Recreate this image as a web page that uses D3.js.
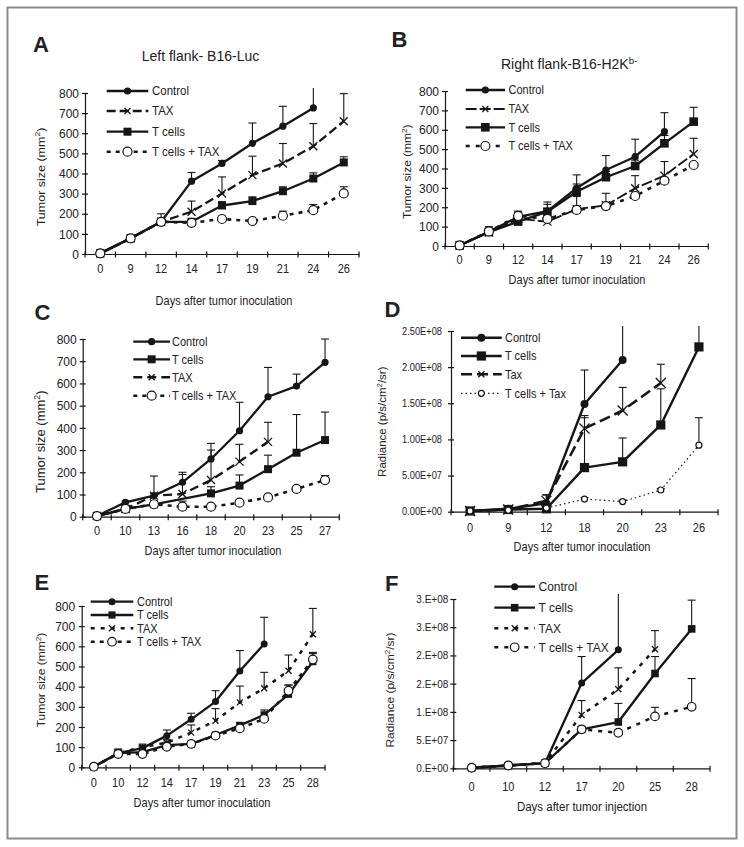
<!DOCTYPE html>
<html><head><meta charset="utf-8">
<script src="https://cdn.jsdelivr.net/npm/d3@7"></script>
<style>
body{margin:0;background:#fff}
svg{display:block}
text{font-family:"Liberation Sans",Arial,Helvetica,sans-serif;fill:#222}
</style>
</head><body><script>
// ---------- DATA ----------
const tumorTicks = [0,100,200,300,400,500,600,700,800];
const tumorTickLabels = ["0","100","200","300","400","500","600","700","800"];
const dTicks = [0,5e7,1e8,1.5e8,2e8,2.5e8];
const dTickLabels = ["0.00E+00","5.00E+07","1.00E+08","1.50E+08","2.00E+08","2.50E+08"];
const fTicks = [0,5e7,1e8,1.5e8,2e8,2.5e8,3e8];
const fTickLabels = ["0.E+00","5.E+07","1.E+08","2.E+08","2.E+08","3.E+08","3.E+08"];

// Panel A
const daysA = ["0","9","12","14","17","19","21","24","26"];
const aControl   = [3, 78, 160, 362, 450, 550, 635, 726, null];
const aControlSD = [0, 5, 40, 43, 15, 101, 99, 95, null];
const aTax       = [3, 78, 160, 210, 301, 392, 450, 535, 660];
const aTaxSD     = [0, 5, 10, 53, 82, 94, 99, 113, 137];
const aTcells    = [3, 78, 160, 160, 241, 263, 312, 375, 455];
const aTcellsSD  = [0, 5, 10, 10, 19, 21, 22, 28, 28];
const aCombo     = [3, 78, 160, 155, 174, 164, 190, 218, 301];
const aComboSD   = [0, 5, 10, 10, 14, 10, 23, 28, 33];

// Panel B
const daysB = ["0","9","12","14","17","19","21","24","26"];
const bControl   = [3, 75, 150, 180, 299, 392, 461, 590, null];
const bControlSD = [0, 25, 25, 47, 68, 75, 90, 98, null];
const bTax       = [3, 70, 140, 126, 190, 210, 298, 363, 475];
const bTaxSD     = [0, 15, 20, 10, 65, 62, 65, 73, 81];
const bTcells    = [3, 72, 126, 177, 280, 355, 413, 530, 642];
const bTcellsSD  = [0, 20, 15, 38, 40, 30, 30, 40, 74];
const bCombo     = [3, 75, 155, 140, 186, 206, 258, 337, 418];
const bComboSD   = [0, 10, 25, 10, 10, 10, 10, 12, 12];

// Panel C
const daysC = ["0","10","13","16","18","20","23","25","27"];
const cControl   = [3, 65, 95, 155, 260, 387, 540, 588, 695];
const cControlSD = [0, 5, 10, 45, 70, 128, 132, 54, 105];
const cTcells    = [3, 35, 56, null, 105, 140, 214, 288, 345];
const cTcellsSD  = [0, 5, 5, null, 30, 48, 63, 172, 126];
const cTax       = [3, 35, 95, 102, 165, 248, 337, null, null];
const cTaxSD     = [0, 5, 88, 88, 135, 78, 88, null, null];
const cCombo     = [3, 35, 56, 45, 45, 63, 87, 125, 165];
const cComboSD   = [0, 5, 5, 25, 8, 8, 8, 10, 20];

// Panel D
const daysD = ["0","9","12","18","20","23","26"];
const dControl   = [0.1e7, 0.4e7, 1.15e7, 14.9e7, 21.0e7, null, null];
const dControlSD = [0, 0.4e7, 1.2e7, 4.7e7, 4.8e7, null, null];
const dTcells    = [0.1e7, 0.3e7, 0.4e7, 6.1e7, 6.9e7, 12.0e7, 22.8e7];
const dTcellsSD  = [0, 0.2e7, 0.3e7, 6.9e7, 3.3e7, 5.0e7, 3.0e7];
const dTax       = [0.1e7, 0.3e7, 1.5e7, 11.5e7, 14.0e7, 17.8e7, null];
const dTaxSD     = [0, 0.3e7, 0.8e7, 1.8e7, 3.2e7, 2.6e7, null];
const dCombo     = [0.1e7, 0.2e7, 0.5e7, 1.75e7, 1.4e7, 3.0e7, 9.2e7];
const dComboSD   = [0, 0.2e7, 0.2e7, 0.2e7, 0.2e7, 0.2e7, 3.8e7];

// Panel E
const daysE = ["0","10","12","14","17","19","21","23","25","28"];
const eControl   = [3, 70, 95, 157, 238, 326, 478, 612, null, null];
const eControlSD = [0, 15, 12, 28, 30, 54, 101, 132, null, null];
const eTcells    = [3, 70, 75, 110, 116, 160, 208, 260, 362, 524];
const eTcellsSD  = [0, 10, 5, 5, 5, 10, 12, 24, 46, 40];
const eTax       = [3, 70, 100, 122, 172, 231, 322, 392, 479, 660];
const eTaxSD     = [0, 15, 15, 15, 38, 60, 81, 79, 78, 128];
const eCombo     = [3, 66, 66, 102, 116, 157, 193, 240, 380, 535];
const eComboSD   = [0, 25, 35, 5, 5, 10, 10, 10, 28, 35];

// Panel F
const daysF = ["0","10","12","17","20","25","28"];
const fControl   = [0.1e7, 0.5e7, 0.9e7, 15.1e7, 21.0e7, null, null];
const fControlSD = [0, 0.2e7, 0.3e7, 4.7e7, 10e7, null, null];
const fTcells    = [0.1e7, 0.5e7, 0.9e7, 6.9e7, 8.2e7, 16.8e7, 24.7e7];
const fTcellsSD  = [0, 0.2e7, 0.3e7, 0.5e7, 3.3e7, 3.0e7, 5.1e7];
const fTax       = [0.1e7, 0.5e7, 1.0e7, 9.45e7, 14.0e7, 21.1e7, null];
const fTaxSD     = [0, 0.2e7, 0.3e7, 2.55e7, 3.8e7, 3.3e7, null];
const fCombo     = [0.1e7, 0.5e7, 0.9e7, 6.9e7, 6.3e7, 9.2e7, 10.9e7];
const fComboSD   = [0, 0.3e7, 0.3e7, 0.5e7, 0.5e7, 1.6e7, 5.0e7];

// ---------- LAYOUT ----------
const INK = "#161616";
const K = 1.08; // vertical stretch of the lettering in the original figure
const SOLID = 2.3;
const svg = d3.select("body").append("svg").attr("width",744).attr("height",847);
svg.append("rect").attr("x",0).attr("y",0).attr("width",744).attr("height",847).attr("fill","#fff");
svg.append("rect").attr("x",7.5).attr("y",7.5).attr("width",729).attr("height",831)
  .attr("fill","none").attr("stroke","#8a8a8a").attr("stroke-width",2);

const tumorTitle = {parts:[["Tumor size (mm",0],["2",1],[")",0]]};
const radTitle = {parts:[["Radiance (p/s/cm",0],["2",1],["/sr)",0]]};

const panels = [
 {id:"A", days:daysA, yMax:800, yTicks:tumorTicks, yTickLabels:tumorTickLabels,
  x0:85, x1:359, yBottom:254, yTop:93, yLabelGap:6, xLabelDy:19.3, tickFont:11, yTickFont:12,
  letter:{t:"A", x:33, y:52}, title:{x:200.5, y:60.7, parts:[["Left flank- B16-Luc",0]]},
  yTitle:{x:44.5, y:177, size:12.5, ...tumorTitle},
  xTitle:{x:224, y:305, size:11, text:"Days after tumor inoculation"},
  legend:{ys:[91,111,131.7,151.7], x0:106.7, x1:148.3, tx:152, size:11.5},
  msize:{dot:3.6, square:4, open:4.5, x:4, lx:3},
  series:[
   {name:"Control", values:aControl, sd:aControlSD, marker:"dot", dash:null, width:SOLID},
   {name:"TAX", values:aTax, sd:aTaxSD, marker:"x", dash:"9,4", width:2.3},
   {name:"T cells", values:aTcells, sd:aTcellsSD, marker:"square", dash:null, width:SOLID},
   {name:"T cells + TAX", values:aCombo, sd:aComboSD, marker:"open", dash:"4,5", width:2.6}
  ]},
 {id:"B", days:daysB, yMax:800, yTicks:tumorTicks, yTickLabels:tumorTickLabels,
  x0:445, x1:708.3, yBottom:246, yTop:91, yLabelGap:6, xLabelDy:18, tickFont:11, yTickFont:12,
  letter:{t:"B", x:391.5, y:47}, title:{x:501, y:69.3, parts:[["Right flank-B16-H2K",0],["b-",1]]},
  yTitle:{x:411, y:171.7, size:12, ...tumorTitle},
  xTitle:{x:577, y:283.5, size:11, text:"Days after tumor inoculation"},
  legend:{ys:[90,109,127.3,146], x0:465.7, x1:505, tx:508.5, size:11},
  msize:{dot:3.6, square:4.3, open:4.5, x:4, lx:3},
  series:[
   {name:"Control", values:bControl, sd:bControlSD, marker:"dot", dash:null, width:SOLID},
   {name:"TAX", values:bTax, sd:bTaxSD, marker:"x", dash:"11,3", width:1.9},
   {name:"T cells", values:bTcells, sd:bTcellsSD, marker:"square", dash:null, width:SOLID},
   {name:"T cells + TAX", values:bCombo, sd:bComboSD, marker:"open", dash:"4,6", width:2.6}
  ]},
 {id:"C", days:daysC, yMax:800, yTicks:tumorTicks, yTickLabels:tumorTickLabels,
  x0:82.7, x1:339.3, yBottom:516.7, yTop:339, yLabelGap:6, xLabelDy:18.5, tickFont:11, yTickFont:12,
  letter:{t:"C", x:34.5, y:320}, title:null,
  yTitle:{x:45, y:441.7, size:13, ...tumorTitle},
  xTitle:{x:213, y:555, size:11, text:"Days after tumor inoculation"},
  legend:{ys:[341.7,359.3,377.3,395.7], x0:133.3, x1:170, tx:172, size:11},
  msize:{dot:3.6, square:4, open:4.5, x:4, lx:3},
  series:[
   {name:"Control", values:cControl, sd:cControlSD, marker:"dot", dash:null, width:SOLID},
   {name:"T cells", values:cTcells, sd:cTcellsSD, marker:"square", dash:null, width:SOLID},
   {name:"TAX", values:cTax, sd:cTaxSD, marker:"x", dash:"9,5", width:2.4},
   {name:"T cells + TAX", values:cCombo, sd:cComboSD, marker:"open", dash:"4,5", width:2.6}
  ]},
 {id:"D", days:daysD, yMax:2.5e8, yTicks:dTicks, yTickLabels:dTickLabels,
  x0:451, x1:718, yBottom:511.7, yTop:331, yLabelGap:9, xLabelDy:20, tickFont:11, yTickFont:9.3,
  letter:{t:"D", x:384.5, y:317}, title:null,
  yTitle:{x:386, y:421.7, size:11.5, ...radTitle},
  xTitle:{x:582, y:551, size:11, text:"Days after tumor inoculation"},
  legend:{ys:[337.7,356,374.3,393.3], x0:461, x1:501.7, tx:505, size:11},
  msize:{dot:4, square:4.6, open:3, x:5, lx:3},
  series:[
   {name:"Control", values:dControl, sd:dControlSD, marker:"dot", dash:null, width:2.4},
   {name:"T cells", values:dTcells, sd:dTcellsSD, marker:"square", dash:null, width:2.4},
   {name:"Tax", values:dTax, sd:dTaxSD, marker:"x", dash:"11,5", width:2.6},
   {name:"T cells + Tax", values:dCombo, sd:dComboSD, marker:"open", dash:"1.5,3", width:1.2}
  ]},
 {id:"E", days:daysE, yMax:800, yTicks:tumorTicks, yTickLabels:tumorTickLabels,
  x0:81.7, x1:325, yBottom:767.3, yTop:606, yLabelGap:6.5, xLabelDy:19.4, tickFont:11, yTickFont:12,
  letter:{t:"E", x:34.5, y:589.5}, title:null,
  yTitle:{x:45, y:680, size:12, ...tumorTitle},
  xTitle:{x:202, y:806.7, size:11, text:"Days after tumor inoculation"},
  legend:{ys:[601.7,615,628.3,641.7], x0:90.7, x1:133.3, tx:137, size:11},
  msize:{dot:3.5, square:3.6, open:4.3, x:3, lx:3},
  series:[
   {name:"Control", values:eControl, sd:eControlSD, marker:"dot", dash:null, width:SOLID},
   {name:"T cells", values:eTcells, sd:eTcellsSD, marker:"square", dash:null, width:SOLID},
   {name:"TAX", values:eTax, sd:eTaxSD, marker:"x", dash:"4,6", width:2.5},
   {name:"T cells + TAX", values:eCombo, sd:eComboSD, marker:"open", dash:"4,5", width:2.5}
  ]},
 {id:"F", days:daysF, yMax:3e8, yTicks:fTicks, yTickLabels:fTickLabels,
  x0:453.3, x1:710, yBottom:768.3, yTop:599, yLabelGap:5, xLabelDy:22.5, tickFont:11, yTickFont:10,
  letter:{t:"F", x:385, y:591}, title:null,
  yTitle:{x:394, y:690, size:12, ...radTitle},
  xTitle:{x:582, y:810.7, size:11.5, text:"Days after tumor injection"},
  legend:{ys:[586.7,607.7,628.3,647.3], x0:494.3, x1:535, tx:538.5, size:12},
  msize:{dot:3.5, square:3.8, open:4.3, x:3, lx:3},
  series:[
   {name:"Control", values:fControl, sd:fControlSD, marker:"dot", dash:null, width:SOLID},
   {name:"T cells", values:fTcells, sd:fTcellsSD, marker:"square", dash:null, width:SOLID},
   {name:"TAX", values:fTax, sd:fTaxSD, marker:"x", dash:"4,6", width:2.5},
   {name:"T cells + TAX", values:fCombo, sd:fComboSD, marker:"open", dash:"4,6", width:2.5}
  ]}
];

function drawMarker(g, type, cx, cy, ms) {
  if (type === "dot") {
    g.append("circle").attr("cx",cx).attr("cy",cy).attr("r",ms.dot).attr("fill",INK);
  } else if (type === "square") {
    g.append("rect").attr("x",cx-ms.square).attr("y",cy-ms.square)
      .attr("width",ms.square*2).attr("height",ms.square*2).attr("fill",INK);
  } else if (type === "open") {
    g.append("circle").attr("cx",cx).attr("cy",cy).attr("r",ms.open)
      .attr("fill","#fff").attr("stroke",INK).attr("stroke-width",1.2);
  } else if (type === "x") {
    const s = ms.x;
    g.append("path").attr("d",`M${cx-s},${cy-s}L${cx+s},${cy+s}M${cx-s},${cy+s}L${cx+s},${cy-s}`)
      .attr("stroke",INK).attr("stroke-width",1.3).attr("fill","none");
  }
}

function addParts(textSel, parts, size) {
  let raised = false;
  parts.forEach(([t, sup]) => {
    const ts = textSel.append("tspan").text(t);
    if (sup) { ts.attr("font-size", size*0.68).attr("dy", -size*0.38); raised = true; }
    else if (raised) { ts.attr("dy", size*0.38); raised = false; }
  });
}

// move x/y into a transform and stretch the glyphs vertically
function stretch(sel) {
  sel.each(function() {
    const t = d3.select(this);
    const x = +t.attr("x") || 0, y = +t.attr("y") || 0;
    t.attr("x", null).attr("y", null)
     .attr("transform", `translate(${x},${y}) scale(1,${K})`);
  });
}

panels.forEach(p => {
  const g = svg.append("g");
  const x = d3.scaleBand().domain(p.days).range([p.x0, p.x1]);
  const cx = d => x(d) + x.bandwidth()/2;
  const y = d3.scaleLinear().domain([0, p.yMax]).range([p.yBottom, p.yTop]);

  // y axis
  const yAx = g.append("g").attr("transform",`translate(${p.x0},0)`)
    .call(d3.axisLeft(y).tickValues(p.yTicks).tickFormat((d,i)=>p.yTickLabels[i])
      .tickSizeInner(3).tickSizeOuter(0).tickPadding(p.yLabelGap-3));
  yAx.selectAll(".tick line").attr("x1",3).attr("x2",-3);
  yAx.selectAll("path,line").attr("stroke",INK).attr("stroke-width",1.2);
  yAx.selectAll("text").attr("font-size",p.yTickFont).attr("fill","#222")
    .attr("font-family","Liberation Sans, Arial, sans-serif");
  stretch(yAx.selectAll("text"));

  // x axis (labels at band centres, ticks at band edges)
  const xAx = g.append("g").attr("transform",`translate(0,${p.yBottom})`)
    .call(d3.axisBottom(x).tickSize(0).tickPadding(0));
  xAx.selectAll("path").attr("stroke",INK).attr("stroke-width",1.2);
  xAx.selectAll("text").attr("font-size",p.tickFont).attr("fill","#222").attr("dy",null)
    .attr("y",p.xLabelDy).attr("font-family","Liberation Sans, Arial, sans-serif");
  stretch(xAx.selectAll("text"));
  const edges = p.days.map(d => x(d)).concat([x.range()[1]]);
  g.selectAll(null).data(edges).enter().append("line")
    .attr("x1",d=>d).attr("x2",d=>d).attr("y1",p.yBottom-2.5).attr("y2",p.yBottom+3.5)
    .attr("stroke",INK).attr("stroke-width",1.2);

  // error bars
  const eg = g.append("g");
  p.series.forEach(s => {
    s.values.forEach((v,i) => {
      const sd = s.sd[i];
      if (v == null || !sd) return;
      const top = v + sd;
      const X = cx(p.days[i]);
      const capped = top <= p.yMax*1.005;
      const y2 = capped ? y(top) : p.yTop - 5;
      eg.append("line").attr("x1",X).attr("x2",X).attr("y1",y(v)).attr("y2",y2)
        .attr("stroke",INK).attr("stroke-width",1.1);
      if (capped) eg.append("line").attr("x1",X-4).attr("x2",X+4).attr("y1",y2).attr("y2",y2)
        .attr("stroke",INK).attr("stroke-width",1.1);
    });
  });

  // lines (points without a value are skipped and the line joins its neighbours)
  const line = d3.line().x(d => cx(d.k)).y(d => y(d.v));
  p.series.forEach(s => {
    const pts = s.values.map((v,i) => ({k:p.days[i], v})).filter(d => d.v != null);
    g.append("path").attr("d", line(pts)).attr("fill","none").attr("stroke",INK)
      .attr("stroke-width",s.width).attr("stroke-dasharray",s.dash)
      .attr("stroke-linejoin","round");
  });
  // markers
  p.series.forEach(s => {
    s.values.forEach((v,i) => { if (v != null) drawMarker(g, s.marker, cx(p.days[i]), y(v), p.msize); });
  });

  // legend
  p.series.forEach((s,i) => {
    const ly = p.legend.ys[i];
    g.append("line").attr("x1",p.legend.x0).attr("x2",p.legend.x1).attr("y1",ly).attr("y2",ly)
      .attr("stroke",INK).attr("stroke-width",s.width).attr("stroke-dasharray",s.dash);
    const ms = Object.assign({}, p.msize, {x:p.msize.lx});
    drawMarker(g, s.marker, (p.legend.x0+p.legend.x1)/2, ly, ms);
    const lt = g.append("text").attr("x",p.legend.tx).attr("y",ly+p.legend.size*0.36*K)
      .attr("font-size",p.legend.size).text(s.name);
    stretch(lt);
  });

  // panel letter
  g.append("text").attr("x",p.letter.x).attr("y",p.letter.y).attr("font-size",22)
    .attr("font-weight","bold").attr("fill","#111").text(p.letter.t);
  // title
  if (p.title) {
    const t = g.append("text").attr("x",p.title.x).attr("y",p.title.y).attr("font-size",14)
      .attr("text-anchor", p.id === "A" ? "middle" : "start");
    addParts(t, p.title.parts, 14);
  }
  // y title
  const yt = g.append("text")
    .attr("transform",`translate(${p.yTitle.x},${p.yTitle.y}) scale(1,${K}) rotate(-90)`)
    .attr("text-anchor","middle").attr("font-size",p.yTitle.size/K);
  addParts(yt, p.yTitle.parts, p.yTitle.size/K);
  // x title
  const xt = g.append("text").attr("x",p.xTitle.x).attr("y",p.xTitle.y).attr("text-anchor","middle")
    .attr("font-size",p.xTitle.size).text(p.xTitle.text);
  stretch(xt);
});
</script></body></html>
